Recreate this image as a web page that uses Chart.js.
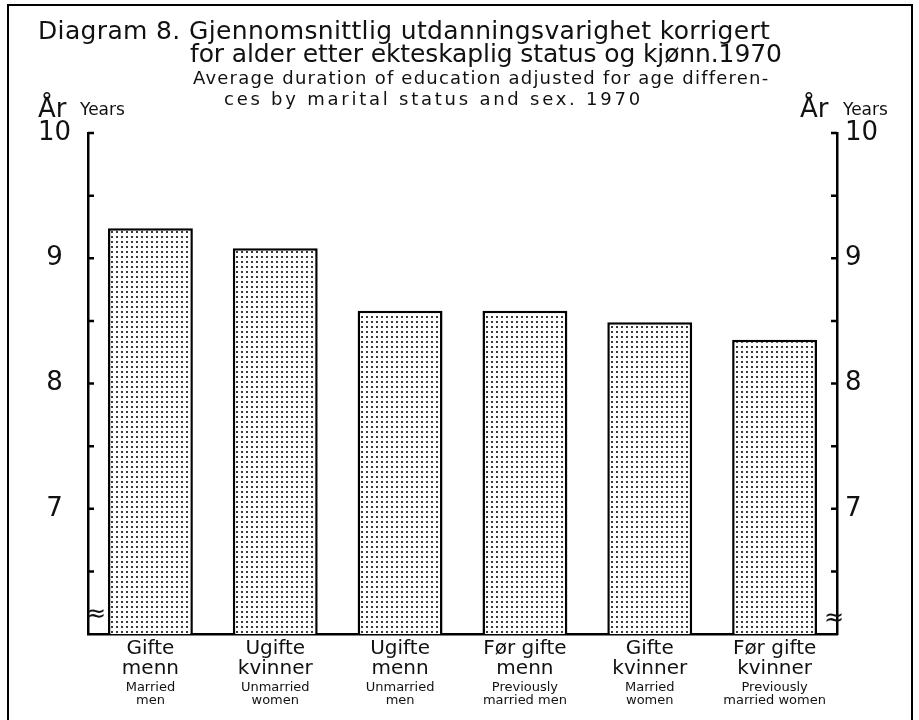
<!DOCTYPE html>
<html>
<head>
<meta charset="utf-8">
<script src="https://cdn.jsdelivr.net/npm/chart.js@4.4.1/dist/chart.umd.min.js"></script>
<style>
  html, body { margin: 0; padding: 0; background: #fff; }
  #wrap { width: 919px; height: 720px; }
</style>
</head>
<body>
<div id="wrap"><canvas id="chart" width="919" height="720"></canvas></div>
<script>
// Chart data
const categoriesNo = [['Gifte', 'menn'], ['Ugifte', 'kvinner'], ['Ugifte', 'menn'],
                      ['Før gifte', 'menn'], ['Gifte', 'kvinner'], ['Før gifte', 'kvinner']];
const categoriesEn = [['Married', 'men'], ['Unmarried', 'women'], ['Unmarried', 'men'],
                      ['Previously', 'married men'], ['Married', 'women'], ['Previously', 'married women']];
const years = [9.24, 9.08, 8.58, 8.58, 8.49, 8.35];
const yTickLabels = [7, 8, 9, 10];
const titleNo = ['Diagram 8. Gjennomsnittlig utdanningsvarighet korrigert',
                 'for alder etter ekteskaplig status og kjønn.1970'];
const titleEn = ['Average duration of education adjusted for age differen-',
                 'ces by marital status and sex. 1970'];
const unitNo = 'År';
const unitEn = 'Years';

const FONT = "'DejaVu Sans', sans-serif";

// Dotted fill for the bars
function dotPattern() {
  const c = document.createElement('canvas');
  c.width = 5; c.height = 5;
  const g = c.getContext('2d');
  g.fillStyle = '#fff';
  g.fillRect(0, 0, 5, 5);
  g.fillStyle = '#3a3a3a';
  g.fillRect(1, 1, 2, 2);
  return g.createPattern(c, 'repeat');
}

// Draw one line of text, optionally spread out to a given width
function text(ctx, s, x, y, size, align, fitW) {
  ctx.font = size + 'px ' + FONT;
  ctx.textAlign = align || 'left';
  ctx.textBaseline = 'alphabetic';
  ctx.letterSpacing = '0px';
  if (fitW) {
    const w = ctx.measureText(s).width;
    const gap = (fitW - w) / Math.max(1, s.length - 1);
    if ('letterSpacing' in ctx) {
      ctx.letterSpacing = gap.toFixed(2) + 'px';
      ctx.fillText(s, x, y);
      ctx.letterSpacing = '0px';
    } else {
      ctx.fillText(s, x, y, fitW);
    }
  } else {
    ctx.fillText(s, x, y);
  }
}

// Titles, unit labels, inward tick marks, axis breaks and frame
const decorations = {
  id: 'decorations',
  afterDraw(chart) {
    const ctx = chart.ctx;
    const ys = chart.scales.y;
    const area = chart.chartArea;
    ctx.save();
    ctx.fillStyle = '#111';

    text(ctx, titleNo[0], 38, 39, 25, 'left', 732);
    text(ctx, titleNo[1], 190, 62, 25, 'left', 592);
    text(ctx, titleEn[0], 193, 84, 18, 'left', 575);
    text(ctx, titleEn[1], 224, 105, 18, 'left', 416);

    text(ctx, unitNo, 38, 117, 26, 'left');
    text(ctx, unitEn, 80, 115, 17, 'left');
    text(ctx, unitNo, 800, 117, 26, 'left');
    text(ctx, unitEn, 843, 115, 17, 'left');

    // inward ticks at every half year
    ctx.strokeStyle = '#000';
    ctx.lineWidth = 2.5;
    ys.ticks.forEach(t => {
      if (t.value <= ys.min) return;
      const py = ys.getPixelForValue(t.value);
      ctx.beginPath();
      ctx.moveTo(area.left, py); ctx.lineTo(area.left + 6, py);
      ctx.moveTo(area.right, py); ctx.lineTo(area.right - 6, py);
      ctx.stroke();
    });

    // axis break symbols
    const by = ys.getPixelForValue(6.17);
    text(ctx, '≈', area.left + 8, by + 8, 24, 'center');
    text(ctx, '≈', area.right - 3, by + 12, 24, 'center');

    // frame
    ctx.lineWidth = 2;
    ctx.beginPath();
    ctx.moveTo(8, 720); ctx.lineTo(8, 5); ctx.lineTo(912, 5); ctx.lineTo(912, 720);
    ctx.stroke();
    ctx.restore();
  }
};

const ctx = document.getElementById('chart').getContext('2d');
new Chart(ctx, {
  type: 'bar',
  data: {
    labels: categoriesNo,
    datasets: [{
      data: years,
      backgroundColor: dotPattern(),
      borderColor: '#000',
      borderWidth: 2.5,
      borderSkipped: 'bottom',
      barPercentage: 0.68,
      categoryPercentage: 1.0
    }]
  },
  options: {
    responsive: false,
    animation: false,
    devicePixelRatio: 1,
    layout: { padding: { top: 133, left: 0, right: 0, bottom: 0 } },
    plugins: { legend: { display: false }, tooltip: { enabled: false } },
    scales: {
      x: {
        type: 'category',
        position: 'bottom',
        weight: 0,
        grid: { display: false, drawTicks: false },
        border: { display: true, color: '#000', width: 2.5 },
        ticks: { color: '#111', font: { family: FONT, size: 20, lineHeight: 1.0 }, padding: 5,
                 maxRotation: 0, autoSkip: false },
        afterFit: s => { s.height = 47; }
      },
      x2: {
        type: 'category',
        labels: categoriesEn,
        position: 'bottom',
        weight: 1,
        offset: true,
        grid: { display: false, drawTicks: false },
        border: { display: false },
        ticks: { color: '#111', font: { family: FONT, size: 13, lineHeight: 1.0 }, padding: 0,
                 maxRotation: 0, autoSkip: false },
        afterFit: s => { s.height = 39; }
      },
      y: {
        type: 'linear',
        position: 'left',
        min: 6, max: 10,
        grid: { display: false, drawTicks: false },
        border: { display: true, color: '#000', width: 2.5 },
        ticks: { stepSize: 0.5, color: '#111', font: { family: FONT, size: 26 }, padding: 17,
                 crossAlign: 'center',
                 callback: v => yTickLabels.includes(v) ? String(v) : '' },
        afterFit: s => { s.width = 88; }
      },
      y2: {
        type: 'linear',
        position: 'right',
        min: 6, max: 10,
        grid: { display: false, drawTicks: false },
        border: { display: true, color: '#000', width: 2.5 },
        ticks: { stepSize: 0.5, color: '#111', font: { family: FONT, size: 26 }, padding: 8,
                 crossAlign: 'near',
                 callback: v => yTickLabels.includes(v) ? String(v) : '' },
        afterFit: s => { s.width = 82; }
      }
    }
  },
  plugins: [decorations]
});
</script>
</body>
</html>
